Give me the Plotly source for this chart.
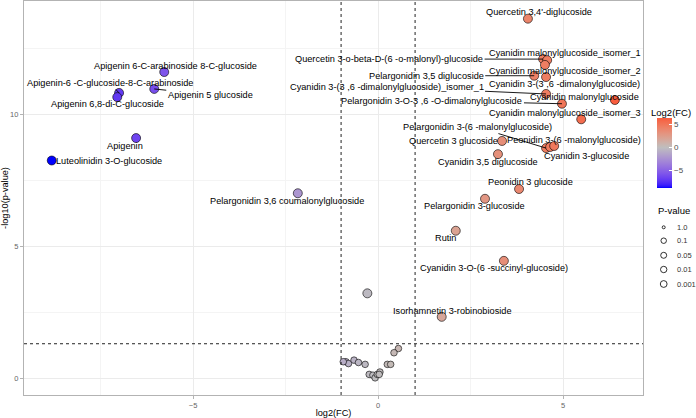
import numpy as np
import plotly.graph_objects as go

# ---------------- data ----------------
labeled_names = [
    "Quercetin 3,4'-diglucoside",
    "Quercetin 3-o-beta-D-(6 -o-malonyl)-glucoside",
    "Cyanidin malonylglucoside_isomer_1",
    "Cyanidin 3-(3 ,6 -dimalonylglucoside)",
    "Pelargonidin 3,5 diglucoside",
    "Cyanidin malonylglucoside_isomer_2",
    "Cyanidin 3-(3 ,6 -dimalonylglucoside)_isomer_1",
    "Cyanidin malonylglucoside",
    "Pelargonidin 3-O-3 ,6 -O-dimalonylglucoside",
    "Cyanidin malonylglucoside_isomer_3",
    "Pelargonidin 3-(6 -malonylglucoside)",
    "Cyanidin 3-glucoside",
    "Peonidin 3-(6 -malonylglucoside)",
    "Quercetin 3 glucoside",
    "Cyanidin 3,5 diglucoside",
    "Peonidin 3 glucoside",
    "Pelargonidin 3-glucoside",
    "Rutin",
    "Cyanidin 3-O-(6 -succinyl-glucoside)",
    "Isorhamnetin 3-robinobioside",
    "Apigenin 6-C-arabinoside 8-C-glucoside",
    "Apigenin-6 -C-glucoside-8-C-arabinoside",
    "Apigenin 6,8-di-C-glucoside",
    "Apigenin 5 glucoside",
    "Apigenin",
    "Luteolinidin 3-O-glucoside",
    "Pelargonidin 3,6 coumalonylglucoside",
]
labeled_log2fc = [4.05, 4.46, 4.57, 4.51, 4.22, 4.54, 4.54, 6.40, 4.97, 5.49,
                  4.54, 4.65, 4.76, 3.35, 3.24, 3.81, 2.89, 2.10, 3.40, 1.72,
                  -5.78, -7.00, -7.05, -6.05, -6.54, -8.82, -2.17]
labeled_neglogp = [13.61, 12.08, 12.04, 11.86, 11.45, 11.40, 10.76, 10.53, 10.39, 9.80,
                   8.71, 8.75, 8.79, 8.98, 8.48, 7.16, 6.79, 5.58, 4.44, 2.32,
                   11.59, 10.80, 10.64, 10.95, 9.09, 8.24, 7.00]

other_log2fc = [-0.29, 0.55, 0.43, -0.87, -0.80, -0.65, -0.53, -0.35, 0.25, 0.34,
                -0.24, -0.14, -0.08, -0.02, 0.05, 0.03, -0.94]
other_neglogp = [3.21, 1.12, 0.96, 0.62, 0.55, 0.68, 0.59, 0.52, 0.52, 0.52,
                 0.14, 0.11, 0.01, 0.14, 0.23, 0.14, 0.62]

pvalue_breaks = ["1.0", "0.1", "0.05", "0.01", "0.001"]
fc_cutoff = 1.0
p_cutoff = 0.05

# label placement (pixel offsets from the point: dx, dy-down, draw segment)
label_offsets = [
    (11.5, -6.4, False), (-154, 0, True), (17.5, -7, False), (20, 19, False),
    (-108, 0, True), (18.5, -6, False), (-159.5, -7, True), (-30, -3, False),
    (-130, -3, True), (-16, -6, False), (-69, -21, True), (36, 8.7, False),
    (20, -6, False), (-49, 0, False), (-10, 8, False), (11, -7, False),
    (-11, 7, False), (-10.5, 7.3, False), (-10, 6.7, False), (11, -6, False),
    (11.5, -6, False), (-9.5, -10, True), (-10, 7, False), (56, 6, True),
    (-11, 8, False), (57, 0, False), (-10.7, 7.7, False),
]

# ---------------- colour scale (ggplot gradient2, Lab interpolation) ----------------
def _hex_rgb(h):
    h = h.lstrip('#')
    return np.array([int(h[i:i + 2], 16) for i in (0, 2, 4)], float) / 255.0

M = np.array([[0.4124564, 0.3575761, 0.1804375],
              [0.2126729, 0.7151522, 0.0721750],
              [0.0193339, 0.1191920, 0.9503041]])
Minv = np.linalg.inv(M)
WHITE = np.array([0.95047, 1.0, 1.08883])

def rgb2lab(c):
    lin = np.where(c <= 0.04045, c / 12.92, ((c + 0.055) / 1.055) ** 2.4)
    xyz = M @ lin / WHITE
    f = np.where(xyz > (6 / 29) ** 3, np.cbrt(xyz), xyz / (3 * (6 / 29) ** 2) + 4 / 29)
    return np.array([116 * f[1] - 16, 500 * (f[0] - f[1]), 200 * (f[1] - f[2])])

def lab2rgb(lab):
    fy = (lab[0] + 16) / 116
    fx = fy + lab[1] / 500
    fz = fy - lab[2] / 200
    f = np.array([fx, fy, fz])
    xyz = np.where(f > 6 / 29, f ** 3, 3 * (6 / 29) ** 2 * (f - 4 / 29)) * WHITE
    lin = np.clip(Minv @ xyz, 0, 1)
    c = np.where(lin <= 0.0031308, 12.92 * lin, 1.055 * lin ** (1 / 2.4) - 0.055)
    c = np.clip(c, 0, 1)
    return 'rgb(%d,%d,%d)' % tuple(np.round(c * 255))

LOW, MID, HIGH = rgb2lab(_hex_rgb('#0000FF')), rgb2lab(_hex_rgb('#BEBEBE')), rgb2lab(_hex_rgb('#FF0000'))

def grad2(t):
    if t < 0.5:
        s = t / 0.5
        return lab2rgb(LOW + (MID - LOW) * s)
    s = (t - 0.5) / 0.5
    return lab2rgb(MID + (HIGH - MID) * s)

all_fc = labeled_log2fc + other_log2fc
cmin, cmax = min(all_fc), max(all_fc)
maxabs = max(abs(cmin), abs(cmax))
colorscale = []
for p in np.linspace(0, 1, 41):
    v = cmin + p * (cmax - cmin)
    colorscale.append([float(p), grad2(0.5 + v / (2 * maxabs))])

def point_size(y):
    return 9.0 if y >= -np.log10(p_cutoff) else 6.6

# ---------------- figure ----------------
W, H = 696, 418
ML, MR, MT, MB = 24, 53, 1, 23
PW, PH = W - ML - MR, H - MT - MB

def px_x(px):
    return (px - ML) / PW

def px_y(py):
    return (H - MB - py) / PH

fig = go.Figure()

fig.add_trace(go.Scatter(
    x=other_log2fc + labeled_log2fc,
    y=other_neglogp + labeled_neglogp,
    mode='markers',
    showlegend=False,
    hoverinfo='skip',
    marker=dict(
        color=other_log2fc + labeled_log2fc,
        colorscale=colorscale, cmin=cmin, cmax=cmax,
        size=[point_size(v) for v in other_neglogp + labeled_neglogp],
        line=dict(color='black', width=0.6),
        opacity=1,
        showscale=True,
        colorbar=dict(
            thickness=15, len=70, lenmode='pixels',
            x=px_x(657), xanchor='left', y=px_y(153), yanchor='middle',
            xpad=0, ypad=0, outlinewidth=0,
            tickvals=[-5, 0, 5], ticks='inside', ticklen=3, tickcolor='white',
            tickfont=dict(size=8, color='#4D4D4D'),
        ),
    ),
))

# legend titles
fig.add_annotation(x=px_x(649), y=px_y(112), xref='paper', yref='paper', text='Log2(FC)',
                   showarrow=False, xanchor='left', yanchor='middle',
                   font=dict(size=9.5, color='black'))
fig.add_annotation(x=px_x(656), y=px_y(211), xref='paper', yref='paper', text='P-value',
                   showarrow=False, xanchor='left', yanchor='middle',
                   font=dict(size=9.5, color='black'))

# P-value size legend (drawn in the margin)
legend_sizes = [3, 5.5, 6, 6.4, 6.8]
legend_rows = [227.3, 240.7, 255.3, 269.5, 284]
for lab, s, ry in zip(pvalue_breaks, legend_sizes, legend_rows):
    fig.add_shape(type='circle', xref='paper', yref='paper', xsizemode='pixel', ysizemode='pixel',
                  xanchor=px_x(663.7), yanchor=px_y(ry), x0=-s / 2, x1=s / 2, y0=-s / 2, y1=s / 2,
                  line=dict(color='black', width=0.8), fillcolor='white')
    fig.add_annotation(x=px_x(675), y=px_y(ry), xref='paper', yref='paper', text=lab,
                       showarrow=False, xanchor='left', yanchor='middle',
                       font=dict(size=7.5, color='#333333'))

# threshold lines
for v in (-fc_cutoff, fc_cutoff):
    fig.add_vline(x=v, line=dict(color='#222222', width=1, dash='dot'))
fig.add_hline(y=-np.log10(p_cutoff), line=dict(color='#222222', width=1, dash='dot'))

# labels
for name, xv, yv, (dx, dy, seg) in zip(labeled_names, labeled_log2fc, labeled_neglogp, label_offsets):
    if seg:
        fig.add_annotation(x=xv, y=yv, text=name, showarrow=True, ax=dx, ay=dy,
                           arrowhead=0, arrowwidth=0.9, arrowcolor='black', standoff=0,
                           font=dict(size=9.2, color='black'))
    else:
        fig.add_annotation(x=xv, y=yv, text=name, showarrow=False,
                           xshift=dx, yshift=-dy, font=dict(size=9.2, color='black'))

axis_common = dict(
    showline=True, mirror=True, linecolor='#B3B3B3', linewidth=1.2,
    showgrid=True, gridcolor='#EBEBEB', gridwidth=0.8,
    zeroline=False, ticks='outside', ticklen=3, tickcolor='#B3B3B3', tickwidth=1,
    tickfont=dict(size=7.5, color='#666666'),
    minor=dict(dtick=2.5, showgrid=True, gridcolor='#F4F4F4', gridwidth=0.5, ticks=''),
    automargin=False,
)
fig.update_xaxes(range=[-9.57, 7.16], tickvals=[-5, 0, 5], dtick=5, tick0=0,
                 title=dict(text='log2(FC)', font=dict(size=9.2, color='black'), standoff=4),
                 **axis_common)
fig.update_yaxes(range=[-0.64, 14.28], tickvals=[0, 5, 10], dtick=5, tick0=0,
                 title=dict(text='-log10(p-value)', font=dict(size=9.2, color='black'), standoff=2),
                 **axis_common)

fig.update_layout(
    width=W, height=H,
    margin=dict(l=ML, r=MR, t=MT, b=MB, autoexpand=False),
    plot_bgcolor='white', paper_bgcolor='white',
    font=dict(family='Liberation Sans, Arial, sans-serif', size=9.2, color='black'),
    showlegend=False,
)

fig.write_html('out.html')
